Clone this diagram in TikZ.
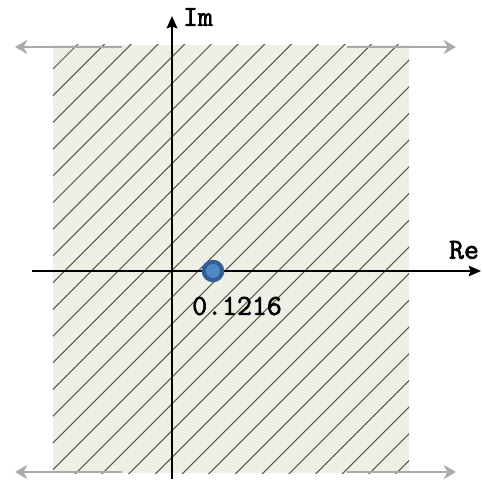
\documentclass[tikz,border=0pt]{standalone}
\usepackage{fontspec}
\setmonofont{Latin Modern Mono}[AutoFakeBold=2.2]
\usetikzlibrary{arrows.meta,positioning}

\definecolor{regionfill}{HTML}{EEF0E5}
\definecolor{hatchcol}{HTML}{5E544A}
\definecolor{farcol}{HTML}{AAAAAA}
\definecolor{polefill}{HTML}{4E88C6}
\definecolor{polering}{HTML}{2F5E98}

\begin{document}
\begin{tikzpicture}[
  x=0.02cm, y=-0.02cm,
  hatch/.style={hatchcol, line width=0.6pt},
  farflow/.style={-{Stealth[length=7pt, width=8pt, inset=2.2pt]}, farcol, line width=1.3pt},
  axis/.style={-{Stealth[length=7pt, width=6pt, inset=1pt]}, black},
  pole/.style={
    circle,
    fill=polefill,
    draw=polering,
    line width=2.3pt,
    inner sep=0pt,
    minimum size=10.5pt
  },
  lbl/.style={
    font=\ttfamily\bfseries\fontsize{16.5}{19}\selectfont,
    inner sep=0pt
  }
]
\useasboundingbox (0,0) rectangle (482,479);

% --- REGIONE DI CONVERGENZA ---------------------------------------
\fill[regionfill] (53,45) rectangle (409,473);
\begin{scope}
  \clip (53,45) rectangle (409,473);
  \foreach \k in {-3,...,29} {
    \pgfmathsetmacro\c{122+26.7*\k}
    \draw[hatch] (\c,0) -- (\c-500,500);
  }
\end{scope}

% --- FRECCE VERSO L'INFINITO --------------------------------------
\coordinate (tlA) at (122,47);  \coordinate (tlB) at (15,47);
\coordinate (trA) at (347,47);  \coordinate (trB) at (456,47);
\coordinate (blA) at (122,472); \coordinate (blB) at (15,472);
\coordinate (brA) at (347,472); \coordinate (brB) at (456,472);
\draw[farflow] (tlA) -- (tlB);
\draw[farflow] (trA) -- (trB);
\draw[farflow] (blA) -- (blB);
\draw[farflow] (brA) -- (brB);

% --- ASSI ---------------------------------------------------------
\coordinate (imlo) at (172,479);
\coordinate (imhi) at (172,16);
\coordinate (relo) at (32,271);
\coordinate (rehi) at (481,271);
\draw[axis, line width=1.5pt] (imlo) -- (imhi);
\draw[axis, line width=1pt] (relo) -- (rehi);

\node[lbl] (im) at (198,17) {Im};
\node[lbl] (re) at (464,250) {Re};

% --- POLO ---------------------------------------------------------
\node[pole] (p) at (213,271) {};
\node[lbl] (pval) at (237,306) {0.1216};

\end{tikzpicture}
\end{document}
